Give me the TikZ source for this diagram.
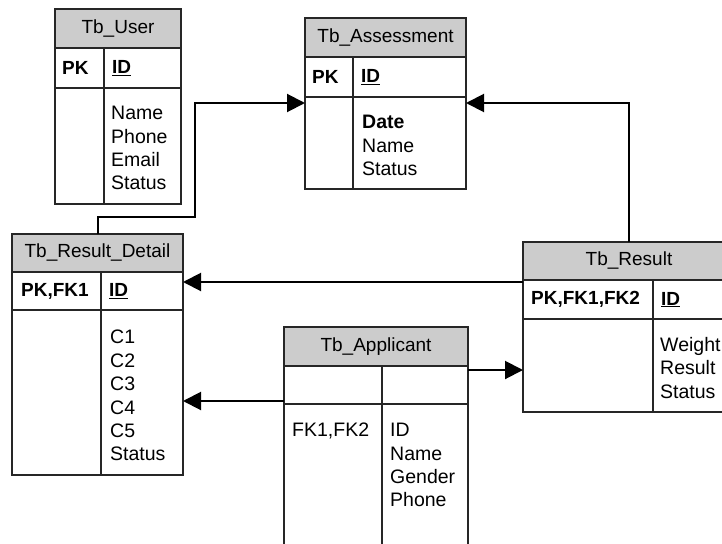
\documentclass[tikz,border=0pt]{standalone}
\usepackage{fontspec}
\setmainfont{Liberation Sans}
\usetikzlibrary{arrows.meta, positioning}

\begin{document}
\begin{tikzpicture}[
    x=1pt, y=-1pt,
    % Header band: grey, table name centred
    headStyle/.style={
        draw=black!85, fill=gray!40, line width=1.2pt,
        inner sep=0pt, outer sep=0pt,
        font=\fontsize{19}{23}\selectfont
    },
    % Rows below the header: plain white boxes
    rowStyle/.style={
        draw=black!85, fill=white, line width=1.2pt,
        inner sep=0pt, outer sep=0pt
    },
    % Key column text
    keyStyle/.style={
        anchor=west, inner sep=0pt,
        font=\fontsize{19}{23}\selectfont\bfseries
    },
    % Field lists
    fieldStyle/.style={
        anchor=north west, inner sep=0pt, align=left,
        font=\fontsize{19.5}{23.4}\selectfont
    },
    % Column divider inside a table
    gridStyle/.style={
        draw=black!85, line width=1.2pt
    },
    % Relation arrows
    linkStyle/.style={
        -{Triangle[length=18pt,width=18pt]}, line width=2pt
    }
]
\useasboundingbox (0,0) rectangle (722,543);
\clip (0,0) rectangle (722,543);

%--- Tb_User ---
\node[headStyle, minimum width=126, minimum height=39] (user) at (118,28.5) {Tb\_User};
\node[rowStyle, minimum width=126, minimum height=40, below=0pt of user] (userKey) {};
\node[rowStyle, minimum width=126, minimum height=116, below=0pt of userKey] (userBody) {};
\draw[gridStyle] (104,48) -- (104,204);
\node[keyStyle] (userPK) at (62,68) {PK};
\node[keyStyle] (userID) at (112,68) {\underline{ID}};
\node[fieldStyle] (userFields) at (111,106) {Name\\Phone\\Email\\Status};

%--- Tb_Assessment ---
\node[headStyle, minimum width=161, minimum height=39] (assess) at (385.5,37.5) {Tb\_Assessment};
\node[rowStyle, minimum width=161, minimum height=40, below=0pt of assess] (assessKey) {};
\node[rowStyle, minimum width=161, minimum height=92, below=0pt of assessKey] (assessBody) {};
\draw[gridStyle] (353,57) -- (353,189);
\node[keyStyle] (assessPK) at (312,77) {PK};
\node[keyStyle] (assessID) at (361,77) {\underline{ID}};
\node[fieldStyle] (assessFields) at (362,115) {\textbf{Date}\\Name\\Status};

%--- Tb_Result_Detail ---
\node[headStyle, minimum width=171, minimum height=38] (detail) at (97.5,253) {Tb\_Result\_Detail};
\node[rowStyle, minimum width=171, minimum height=38, below=0pt of detail] (detailKey) {};
\node[rowStyle, minimum width=171, minimum height=165, below=0pt of detailKey] (detailBody) {};
\draw[gridStyle] (101,272) -- (101,475);
\node[keyStyle] (detailPK) at (21,291) {PK,FK1};
\node[keyStyle] (detailID) at (109,291) {\underline{ID}};
\node[fieldStyle] (detailFields) at (110,330) {C1\\C2\\C3\\C4\\C5\\Status};

%--- Tb_Result ---
\node[headStyle, minimum width=212, minimum height=38] (result) at (629,261) {Tb\_Result};
\node[rowStyle, minimum width=212, minimum height=39, below=0pt of result] (resultKey) {};
\node[rowStyle, minimum width=212, minimum height=93, below=0pt of resultKey] (resultBody) {};
\draw[gridStyle] (653,280) -- (653,412);
\node[keyStyle] (resultPK) at (531,299.5) {PK,FK1,FK2};
\node[keyStyle] (resultID) at (661,299.5) {\underline{ID}};
\node[fieldStyle] (resultFields) at (660,337) {Weight\\Result\\Status};

%--- Tb_Applicant ---
\node[headStyle, minimum width=184, minimum height=39] (appl) at (376,346.5) {Tb\_Applicant};
\node[rowStyle, minimum width=184, minimum height=38, below=0pt of appl] (applKey) {};
\node[rowStyle, minimum width=184, minimum height=160, below=0pt of applKey] (applBody) {};
\draw[gridStyle] (382,366) -- (382,564);
\node[fieldStyle] (applFK) at (292,423) {FK1,FK2};
\node[fieldStyle] (applFields) at (390,423) {ID\\Name\\Gender\\Phone};

%-----------------------
%        Links
%-----------------------
% Tb_Result_Detail -> Tb_Assessment
\coordinate (detailBend) at (195,217);
\draw[linkStyle]
  (detail.north) |- (detailBend) |- ([yshift=-6pt]assessBody.north west);

% Tb_Result -> Tb_Assessment
\draw[linkStyle]
  (result.north) |- ([yshift=-6pt]assessBody.north east);

% Tb_Result -> Tb_Result_Detail
\coordinate (resultOut) at ([yshift=-2pt]result.south west);
\draw[linkStyle]
  (resultOut) -- (resultOut -| detailKey.east);

% Tb_Applicant -> Tb_Result_Detail
\coordinate (applOut) at ([yshift=3pt]applKey.south west);
\draw[linkStyle]
  (applOut) -- (applOut -| detailBody.east);

% Tb_Applicant -> Tb_Result
\coordinate (applIn) at ([yshift=-4pt]appl.south east);
\draw[linkStyle]
  (applIn) -- (applIn -| resultBody.west);
\end{tikzpicture}
\end{document}
